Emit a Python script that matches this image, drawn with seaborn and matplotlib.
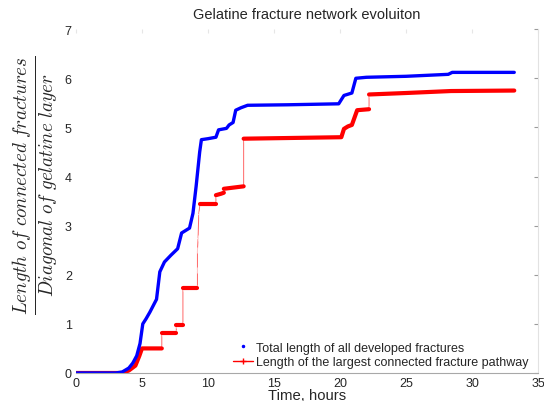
import numpy as np
import pandas as pd
import matplotlib
matplotlib.use("Agg")
import matplotlib.pyplot as plt
from matplotlib.lines import Line2D
import seaborn as sns

# total length of all developed fractures (blue)
blue_t = [0, 3.0, 3.5, 4.0, 4.3, 4.6, 4.85, 5.06, 5.3, 5.6, 6.1, 6.35, 6.7, 7.2, 7.7, 8.0,
          8.6, 8.86, 9.1, 9.37, 9.5, 10.0, 10.6, 10.8, 11.4, 11.6, 11.9, 12.1, 12.5, 13.0,
          16.0, 19.9, 20.3, 20.9, 21.1, 21.2, 22.0, 25.0, 28.2, 28.5, 33.2]
blue_v = [0, 0.0, 0.02, 0.1, 0.2, 0.35, 0.6, 1.0, 1.1, 1.24, 1.5, 2.06, 2.26, 2.4, 2.53, 2.85,
          2.95, 3.25, 3.8, 4.5, 4.75, 4.77, 4.8, 4.95, 4.98, 5.05, 5.1, 5.35, 5.4, 5.45,
          5.46, 5.48, 5.65, 5.7, 5.9, 6.0, 6.02, 6.04, 6.08, 6.12, 6.12]

# largest connected fracture pathway (red)
red_t = [0, 3.5, 4.0, 4.5, 4.8, 5.0, 6.5, 6.5, 7.6, 7.6, 8.1, 8.1, 9.2, 9.2, 9.2, 9.25, 9.3,
         9.4, 9.5, 10.6, 10.6, 11.0, 11.2, 11.2, 12.7, 12.7, 20.1, 20.3, 20.6, 20.9, 21.1,
         21.3, 22.2, 22.2, 25.0, 28.4, 33.2]
red_v = [0, 0.0, 0.05, 0.15, 0.35, 0.5, 0.5, 0.82, 0.82, 0.97, 0.97, 1.72, 1.72, 2.1, 2.5,
         2.75, 3.24, 3.45, 3.45, 3.45, 3.62, 3.65, 3.67, 3.75, 3.8, 4.77, 4.8, 4.97, 5.02,
         5.05, 5.2, 5.35, 5.37, 5.67, 5.7, 5.74, 5.75]

x_ticks = [0, 5, 10, 15, 20, 25, 30, 35]
y_ticks = [0, 1, 2, 3, 4, 5, 6, 7]

sns.set_style("white")
plt.rcParams['font.family'] = ['Liberation Sans', 'DejaVu Sans']
plt.rcParams['mathtext.fontset'] = 'cm'

blue = pd.DataFrame({'t': blue_t, 'v': blue_v})
red = pd.DataFrame({'t': red_t, 'v': red_v})
# split the red curve into flat pieces (thick) and jumps (thin)
dt = red['t'].diff().fillna(1)
dv = red['v'].diff().fillna(0).abs()
red['seg'] = ((dt < 0.02) | (dv / dt.clip(lower=1e-6) > 2)).cumsum()

fig = plt.figure(figsize=(5.44, 4.02), dpi=100)
ax = fig.add_axes([0.1397, 0.0697, 0.8493, 0.8553])

sns.lineplot(data=red, x='t', y='v', color='red', lw=0.7, alpha=0.6, sort=False,
             estimator=None, marker='+', markersize=4, markeredgewidth=0.8, ax=ax)
sns.lineplot(data=red, x='t', y='v', units='seg', estimator=None, sort=False,
             color='red', lw=3.0, ax=ax)
sns.lineplot(data=blue, x='t', y='v', color='blue', lw=2.4, sort=False,
             estimator=None, ax=ax)

ax.set_xlim(0, 35)
ax.set_ylim(0, 7)
ax.set_xticks(x_ticks)
ax.set_yticks(y_ticks)
ax.tick_params(axis='both', labelsize=9, direction='in', length=3, width=0.8,
               color='#9a9a9a', pad=3)
ax.tick_params(axis='y', right=True)
ax.tick_params(axis='x', top=True, color='#e6e6e6')
ax.spines['left'].set_visible(False)
ax.spines['top'].set_visible(False)
ax.spines['bottom'].set_color('#a8a8a8')
ax.spines['right'].set_color('#e2e2e2')

ax.set_title('Gelatine fracture network evoluiton', fontsize=10.5, pad=8)
ax.set_xlabel('Time, hours', fontsize=10.7, labelpad=-1)
ax.set_ylabel(r'$\frac{Length\ of\ connected\ fractures}{Diagonal\ of\ gelatine\ layer}$',
              fontsize=19.5)
ax.yaxis.set_label_coords(-0.032, 0.55)

handles = [Line2D([], [], color='blue', marker='.', ls='none', markersize=3),
           Line2D([], [], color='red', marker='+', lw=1, markersize=4)]
ax.legend(handles, ['Total length of all developed fractures',
                    'Length of the largest connected fracture pathway'],
          loc='lower right', bbox_to_anchor=(1.0, -0.015), frameon=False, fontsize=9,
          handlelength=1.6, handletextpad=0.2, labelspacing=0.2, borderpad=0.3)

fig.savefig('out.png', dpi=100)
